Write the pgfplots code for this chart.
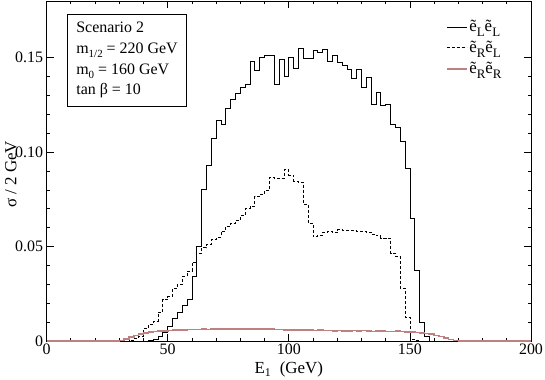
\documentclass[border=0pt]{standalone}
\usepackage{fontspec}
\setmainfont{Liberation Serif}
\usepackage{pgfplots}
\pgfplotsset{compat=1.18}
\definecolor{rose}{RGB}{192,128,128}
\newcommand{\lsub}[1]{\raisebox{-4.5bp}{\fontsize{13}{13}\selectfont #1}}
\newcommand{\bsub}[1]{\raisebox{-4bp}{\fontsize{11}{11}\selectfont #1}}
\begin{document}
\begin{tikzpicture}
\begin{axis}[
  scale only axis, width=484.4bp, height=340bp,
  xmin=0, xmax=200, ymin=0, ymax=0.18,
  xtick={0,50,100,150,200}, xticklabels={0,50,100,150,200},
  ytick={0,0.05,0.1,0.15}, yticklabels={0,0.05,0.10,0.15},
  minor x tick num=4, minor y tick num=4,
  major tick length=7bp, minor tick length=3.5bp,
  tick align=inside,
  axis line style={line width=0.8bp},
  every tick/.style={line width=0.7bp, black},
  tick label style={font=\fontsize{16}{18}\selectfont},
  xticklabel style={yshift=1bp},
  label style={font=\fontsize{17}{19}\selectfont},
  xlabel={E\textsubscript{1}\ \ (GeV)},
  ylabel={σ / 2 GeV},
  xlabel style={at={(axis description cs:0.5,-0.097)}, anchor=base},
  ylabel style={at={(axis description cs:-0.0735,0.49)}, anchor=center},
  legend style={at={(0.948,0.955)}, anchor=north east, draw=none, fill=none,
    font=\fontsize{17}{19}\selectfont, row sep=4bp, inner sep=2bp},
  legend cell align=left,
  legend image code/.code={\draw[#1] (0bp,0bp) -- (20bp,0bp);},
]
\addplot[black, line width=0.8bp, const plot mark left] table {
x y
0 0
40 0
42 0.0003
44 0.001
46 0.0025
48 0.0048
50 0.0078
52 0.012
54 0.0152
56 0.019
58 0.022
60 0.034
62 0.050
64 0.080
66 0.093
68 0.107
70 0.117
72 0.1145
74 0.123
76 0.128
78 0.131
80 0.134
82 0.136
84 0.148
86 0.143
88 0.150
90 0.151
92 0.151
94 0.136
96 0.149
98 0.140
100 0.150
102 0.1445
104 0.155
106 0.1497
108 0.1497
110 0.1538
112 0.1528
114 0.1545
116 0.1478
118 0.151
120 0.1473
122 0.146
124 0.144
126 0.1388
128 0.144
130 0.1345
132 0.1393
134 0.1255
136 0.1315
138 0.1247
140 0.125
142 0.1148
144 0.113
146 0.1055
148 0.0912
150 0.0648
152 0.0373
154 0.0097
156 0.0022
158 0
200 0
};
\addlegendentry{\~e\lsub{L}\~e\lsub{L}}
\addplot[black, line width=0.8bp, dash pattern=on 3bp off 2bp, const plot mark left] table {
x y
0 0
34 0.0004
36 0.0012
38 0.0025
40 0.0068
42 0.0087
44 0.0105
46 0.015
48 0.0218
50 0.0234
52 0.0277
54 0.030
56 0.034
58 0.037
60 0.0416
62 0.0466
64 0.0493
66 0.0513
68 0.0540
70 0.0551
72 0.0582
74 0.0609
76 0.0625
78 0.0640
80 0.0664
82 0.0702
84 0.0710
86 0.0766
88 0.0775
90 0.0796
92 0.0866
94 0.0860
96 0.0860
98 0.0906
100 0.0878
102 0.0845
104 0.0840
106 0.0724
108 0.0622
110 0.0552
112 0.0560
114 0.0575
116 0.0580
118 0.0573
120 0.0590
122 0.0588
124 0.0587
126 0.0585
128 0.0582
130 0.0580
132 0.0576
134 0.0566
136 0.0557
138 0.0545
140 0.0545
142 0.0465
144 0.0447
146 0.0278
148 0.0125
150 0.0008
152 0.0003
154 0
200 0
};
\addlegendentry{\~e\lsub{R}\~e\lsub{L}}
\addplot[rose, line width=1.6bp, const plot mark left] table {
x y
0 0
30 0.0003
32 0.0012
34 0.0022
36 0.0030
38 0.0037
40 0.0043
42 0.0047
44 0.0050
46 0.0052
48 0.0054
50 0.0056
52 0.0057
54 0.0058
56 0.0059
58 0.0060
60 0.0060
62 0.0061
64 0.0062
66 0.0061
68 0.0063
70 0.0064
72 0.0063
74 0.0064
76 0.0063
78 0.0064
80 0.0064
82 0.0063
84 0.0064
86 0.0062
88 0.0065
90 0.0063
92 0.0062
94 0.0061
96 0.0061
98 0.0058
100 0.0059
102 0.0057
104 0.0059
106 0.0057
108 0.0058
110 0.0056
112 0.0057
114 0.0056
116 0.0055
118 0.0054
120 0.0055
122 0.0053
124 0.0054
126 0.0055
128 0.0054
130 0.0055
132 0.0054
134 0.0050
136 0.0053
138 0.0052
140 0.0051
142 0.0051
144 0.0052
146 0.0050
148 0.0049
150 0.0047
152 0.0045
154 0.0043
156 0.0040
158 0.0036
160 0.0030
162 0.0024
164 0.0016
166 0.0008
168 0.0002
170 0
200 0
};
\addlegendentry{\~e\lsub{R}\~e\lsub{R}}
\node[draw, line width=0.8bp, anchor=north west, align=left,
  inner xsep=9bp, inner ysep=8bp, font=\fontsize{16}{20.7}\selectfont]
  at (rel axis cs:0.042,0.962)
  {Scenario 2\\ m\bsub{1/2} = 220 GeV\\ m\bsub{0} = 160 GeV\\ tan β = 10};
\end{axis}
\pgfresetboundingbox
\path[use as bounding box] ([shift={(-46.6bp,-39bp)}]current axis.south west) rectangle ([shift={(14bp,1bp)}]current axis.north east);
\end{tikzpicture}
\end{document}
